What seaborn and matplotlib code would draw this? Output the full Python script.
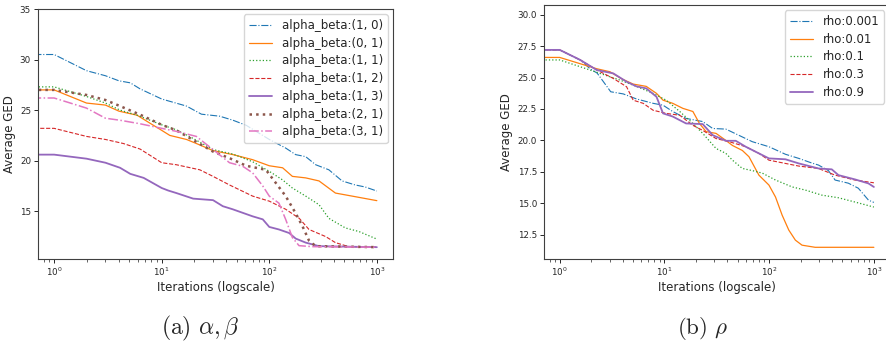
import numpy as np
import pandas as pd
import matplotlib
matplotlib.use("Agg")
import matplotlib.pyplot as plt
import seaborn as sns

# ---------------- data: panel (a) alpha/beta ----------------
ab_labels = ["alpha_beta:(1, 0)", "alpha_beta:(0, 1)", "alpha_beta:(1, 1)",
             "alpha_beta:(1, 2)", "alpha_beta:(1, 3)", "alpha_beta:(2, 1)",
             "alpha_beta:(3, 1)"]

ab10_it = [0, 1, 2, 3, 4, 5.1, 6.3, 10, 17, 23.4, 34.6, 46, 61, 100, 142, 176, 218, 270, 358, 475, 630, 780, 1000]
ab10_ged = [30.5, 30.5, 28.9, 28.4, 27.9, 27.7, 27.1, 26.1, 25.4, 24.6, 24.4, 24.0, 23.5, 22.1, 21.25, 20.6, 20.4, 19.6, 19.1, 18.0, 17.6, 17.4, 17.0]

ab01_it = [0, 1, 2, 3, 4, 5.9, 7.8, 10, 11.9, 17, 21, 30, 46, 70, 100, 133, 164, 218, 290, 412, 588, 1000]
ab01_ged = [27.0, 27.0, 25.7, 25.5, 24.9, 24.5, 23.7, 23.0, 22.5, 22.1, 21.7, 21.0, 20.6, 20.1, 19.5, 19.3, 18.45, 18.3, 18.0, 16.8, 16.5, 16.05]

ab11_it = [0, 1, 2, 3, 4.1, 5.9, 10, 13.7, 19.6, 30, 46, 70, 100, 133, 164, 218, 290, 358, 510, 680, 1000]
ab11_ged = [27.3, 27.3, 26.35, 25.7, 25.0, 24.5, 23.55, 23.05, 22.2, 21.1, 20.65, 19.9, 18.95, 18.1, 17.3, 16.5, 15.65, 14.3, 13.35, 13.0, 12.25]

ab12_it = [0, 1, 2, 3, 4.4, 6.3, 10, 13.7, 22.6, 30, 42.7, 70, 100, 142, 190, 234, 334, 412, 548, 1000]
ab12_ged = [23.2, 23.2, 22.4, 22.1, 21.7, 21.15, 19.8, 19.6, 19.1, 18.45, 17.6, 16.5, 16.0, 15.2, 14.3, 13.2, 12.5, 11.9, 11.5, 11.45]

ab13_it = [0, 1, 2, 3, 4.1, 5.1, 6.8, 10, 11.5, 13.7, 19.6, 30, 37, 45.6, 70, 87, 100, 123, 153, 176, 218, 290, 1000]
ab13_ged = [20.6, 20.6, 20.2, 19.8, 19.3, 18.7, 18.3, 17.3, 17.05, 16.8, 16.25, 16.1, 15.5, 15.2, 14.5, 14.2, 13.45, 13.2, 12.85, 12.3, 11.9, 11.55, 11.45]

ab21_it = [0, 1, 2, 3, 4.1, 6.3, 10, 13.7, 19.6, 30, 42.7, 61, 93, 115, 142, 176, 204, 234, 270, 1000]
ab21_ged = [27.0, 27.0, 26.5, 26.0, 25.4, 24.55, 23.55, 23.0, 22.05, 20.9, 20.25, 19.5, 19.1, 17.8, 16.5, 14.8, 13.5, 12.1, 11.55, 11.45]

ab31_it = [0, 1, 2, 3, 4.1, 6.3, 10, 13.7, 21, 30, 42.7, 56.6, 70, 87, 100, 123, 142, 164, 189, 251, 1000]
ab31_ged = [26.2, 26.2, 25.2, 24.2, 24.0, 23.65, 23.2, 22.9, 22.4, 21.1, 19.8, 19.45, 18.8, 17.5, 16.5, 15.8, 14.2, 12.4, 11.6, 11.5, 11.45]

# ---------------- data: panel (b) rho ----------------
rho_labels = ["rho:0.001", "rho:0.01", "rho:0.1", "rho:0.3", "rho:0.9"]

r0001_it = [0, 1, 1.57, 1.95, 2.28, 3.07, 4.04, 5.4, 7.8, 9.7, 12, 16.1, 23.2, 28.9, 38.6, 51.6, 69, 99.5, 143, 192, 256, 296, 368, 426, 570, 710, 888, 1000]
r0001_ged = [27.2, 27.2, 26.4, 25.7, 25.35, 23.87, 23.7, 23.3, 22.95, 22.8, 22.3, 21.75, 21.5, 20.95, 20.9, 20.4, 19.9, 19.5, 18.9, 18.57, 18.2, 18.04, 17.6, 16.85, 16.6, 16.2, 15.25, 15.07]

r001_it = [0, 1, 1.57, 2.26, 3.02, 3.9, 5.03, 6.7, 8.4, 9.7, 12, 15, 18.7, 21.6, 25, 31.1, 38.6, 44.6, 55.5, 64.2, 79.8, 99.5, 115, 133, 154, 178, 206, 275, 1000]
r001_ged = [26.6, 26.6, 26.1, 25.7, 25.46, 24.9, 24.48, 24.3, 23.74, 23.2, 22.95, 22.55, 22.3, 21.35, 20.7, 20.56, 20.0, 19.6, 19.2, 18.7, 17.24, 16.45, 15.5, 14.06, 12.87, 12.07, 11.67, 11.5, 11.5]

r01_it = [0, 1, 1.57, 2.43, 3.76, 5.4, 7.8, 10.4, 14, 18.7, 23.2, 31.1, 38.6, 44.6, 55.5, 69, 86, 115, 166, 222, 318, 459, 660, 1000]
r01_ged = [26.4, 26.4, 25.86, 25.33, 24.8, 24.3, 23.74, 23.2, 22.3, 21.35, 20.56, 19.36, 18.97, 18.43, 17.77, 17.6, 17.4, 16.85, 16.3, 16.05, 15.65, 15.44, 15.1, 14.7]

r03_it = [0, 1, 1.57, 2.26, 3.25, 4.35, 5.03, 6.27, 7.8, 10.4, 14, 18.7, 23.2, 31.1, 41.5, 59.7, 79.8, 99.5, 143, 192, 296, 426, 660, 1000]
r03_ged = [27.2, 27.2, 26.4, 25.6, 24.93, 24.27, 23.2, 22.95, 22.4, 22.15, 22.0, 21.2, 20.8, 20.15, 19.9, 19.5, 18.97, 18.43, 18.17, 17.96, 17.77, 17.24, 16.85, 16.63]

r09_it = [0, 1, 1.57, 2.26, 3.25, 4.35, 5.4, 6.7, 8.4, 9.7, 12, 16.1, 23.2, 28.9, 38.6, 48, 59.7, 79.8, 99.5, 143, 192, 296, 396, 459, 660, 888, 1000]
r09_ged = [27.2, 27.2, 26.4, 25.6, 25.33, 24.67, 24.3, 24.14, 23.47, 22.15, 21.9, 21.35, 21.3, 20.42, 19.97, 19.97, 19.5, 18.97, 18.57, 18.5, 18.17, 17.77, 17.7, 17.24, 16.9, 16.58, 16.3]

# ---------------- style ----------------
sns.set_style("ticks")
plt.rcParams["font.family"] = ["DejaVu Sans"]
plt.rcParams["mathtext.fontset"] = "dejavusans"

pal = sns.color_palette("tab10")

fig = plt.figure(figsize=(8.86, 3.48), dpi=100)
axA = fig.add_axes([38 / 886, 89 / 348, 355 / 886, 250 / 348])
axB = fig.add_axes([544 / 886, 89 / 348, 345.6 / 886, 254 / 348])

tick_fs = 6.3
lab_fs = 8.5
leg_fs = 8.5


def draw(ax, it, ged, label, color, ls, lw):
    sns.lineplot(x=it, y=ged, ax=ax, color=color, linestyle=ls, linewidth=lw,
                 label=label, estimator=None, sort=False)


axA.set_xscale("log")
ab_series = [(ab10_it, ab10_ged), (ab01_it, ab01_ged), (ab11_it, ab11_ged),
             (ab12_it, ab12_ged), (ab13_it, ab13_ged), (ab21_it, ab21_ged),
             (ab31_it, ab31_ged)]
ab_styles = [("-.", 0.8), ("-", 0.9), (":", 0.9), ("--", 0.8), ("-", 1.3),
             (":", 1.8), ("-.", 1.1)]
for i, ((it, g), lab, (ls, lw)) in enumerate(zip(ab_series, ab_labels, ab_styles)):
    draw(axA, it, g, lab, pal[i], ls, lw)

axB.set_xscale("log")
rho_series = [(r0001_it, r0001_ged), (r001_it, r001_ged), (r01_it, r01_ged),
              (r03_it, r03_ged), (r09_it, r09_ged)]
rho_styles = [("-.", 0.8), ("-", 0.9), (":", 0.9), ("--", 0.8), ("-", 1.3)]
for i, ((it, g), lab, (ls, lw)) in enumerate(zip(rho_series, rho_labels, rho_styles)):
    draw(axB, it, g, lab, pal[i], ls, lw)

axA.set_xlim(0.708, 1413)
axB.set_xlim(0.708, 1413)
axA.set_ylim(10.28, 35)
axA.set_yticks([15, 20, 25, 30, 35])
axB.set_ylim(10.57, 30.77)
axB.set_yticks([12.5, 15.0, 17.5, 20.0, 22.5, 25.0, 27.5, 30.0])
axB.yaxis.set_major_formatter(matplotlib.ticker.FormatStrFormatter("%.1f"))

for ax in (axA, axB):
    ax.set_xlabel("Iterations (logscale)", fontsize=lab_fs, labelpad=2)
    ax.set_ylabel("Average GED", fontsize=lab_fs, labelpad=3)
    ax.tick_params(axis="both", which="major", labelsize=tick_fs, length=3, width=0.7, pad=2)
    ax.tick_params(axis="both", which="minor", length=1.8, width=0.5)
    for s in ax.spines.values():
        s.set_linewidth(0.8)
        s.set_color("0.25")
    ax.legend(loc="upper right", fontsize=leg_fs, handlelength=2.0,
              borderaxespad=0.45, labelspacing=0.4, framealpha=0.8)

fig.text(200 / 886, 1 - 328 / 348, r"$\mathrm{(a)}\ \alpha, \beta$", fontsize=17,
         ha="center", va="center", math_fontfamily="cm")
fig.text(702 / 886, 1 - 328 / 348, r"$\mathrm{(b)}\ \rho$", fontsize=16.5,
         ha="center", va="center", math_fontfamily="cm")

fig.savefig("out.png", dpi=100)
